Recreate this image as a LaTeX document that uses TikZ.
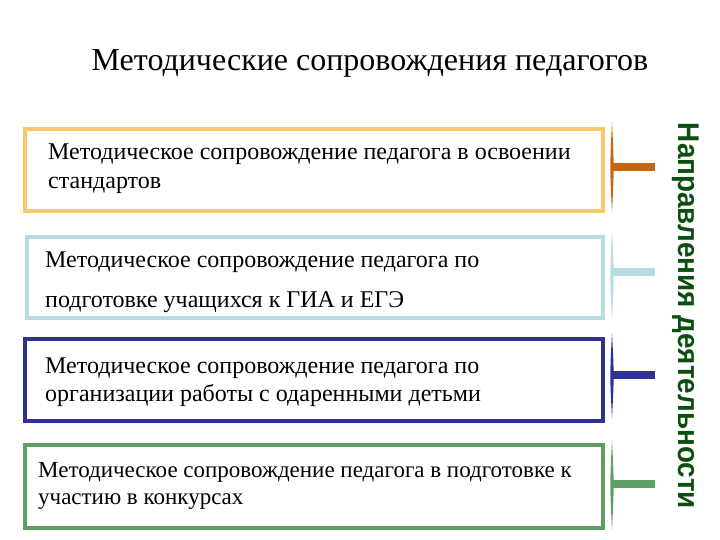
\documentclass[tikz,border=0pt]{standalone}
\usepackage{fontspec}
\setmainfont{Liberation Serif}
\newfontfamily\sansb{Liberation Sans}
\definecolor{cOrBox}{RGB}{250,200,105}
\definecolor{cOrBar}{RGB}{200,102,14}
\definecolor{cLb}{RGB}{180,220,226}
\definecolor{cDb}{RGB}{46,49,146}
\definecolor{cGr}{RGB}{94,160,100}
\definecolor{cTxt}{RGB}{12,78,16}
\tikzset{
  box/.style={draw=#1, line width=4pt, fill=white},
  bar/.style={draw=#1, line width=7.5pt},
  btext/.style={anchor=base west, font=\fontsize{24}{28}\selectfont, inner sep=0pt},
  btextsm/.style={anchor=base west, font=\fontsize{23}{27}\selectfont, inner sep=0pt},
}
\newcommand{\spind}[3]{%
  \fill (#1,#2) .. controls (#1-2.2,{(#2+#3)/2}) .. (#1,#3) .. controls (#1+2.2,{(#2+#3)/2}) .. cycle;}
\begin{document}
\begin{tikzpicture}[x=1pt,y=-1pt]
\useasboundingbox (0,0) rectangle (720,540);
\fill[white] (0,0) rectangle (720,540);
% title
\node[anchor=base, inner sep=0pt, font=\fontsize{32}{36}\selectfont] (title) at (370,71) {Методические сопровождения педагогов};
% boxes
\draw[box=cOrBox] (25,129) rectangle (603,211);
\draw[box=cLb] (27,237) rectangle (603,318);
\draw[box=cDb] (25,339) rectangle (603,421);
\draw[box=cGr] (25,445) rectangle (603,528);
% texts
\node[btext] (t1a) at (48,160) {Методическое сопровождение педагога в освоении};
\node[btext] (t1b) at (48,189) {стандартов};
\node[btext] (t2a) at (45,267) {Методическое сопровождение педагога по};
\node[btext] (t2b) at (45,307) {подготовке учащихся к ГИА и ЕГЭ};
\node[btext] (t3a) at (45,373) {Методическое сопровождение педагога по};
\node[btext] (t3b) at (45,401) {организации работы с одаренными детьми};
\node[btextsm] (t4a) at (38,477) {Методическое сопровождение педагога в подготовке к};
\node[btextsm] (t4b) at (38,504) {участию в конкурсах};
% connectors
\coordinate (s1) at (612,167); \coordinate (e1) at (655,167);
\coordinate (s2) at (612,272); \coordinate (e2) at (655,272);
\coordinate (s3) at (612,375); \coordinate (e3) at (655,375);
\coordinate (s4) at (612,484); \coordinate (e4) at (655,484);
\begin{scope}[cOrBar]\spind{612}{122}{213}\end{scope}
\begin{scope}[cLb]\spind{612}{230}{320}\end{scope}
\begin{scope}[cDb]\spind{612}{333}{418}\end{scope}
\begin{scope}[cGr]\spind{612}{440}{530}\end{scope}
\draw[bar=cOrBar] (s1) -- (e1);
\draw[bar=cLb] (s2) -- (e2);
\draw[bar=cDb] (s3) -- (e3);
\draw[bar=cGr] (s4) -- (e4);
% vertical label
\node[rotate=-90, inner sep=0pt, text=cTxt, font=\sansb\bfseries\fontsize{30}{32}\selectfont] (side) at (686,316) {\scalebox{0.93}[1]{Направления деятельности}};
\end{tikzpicture}
\end{document}
